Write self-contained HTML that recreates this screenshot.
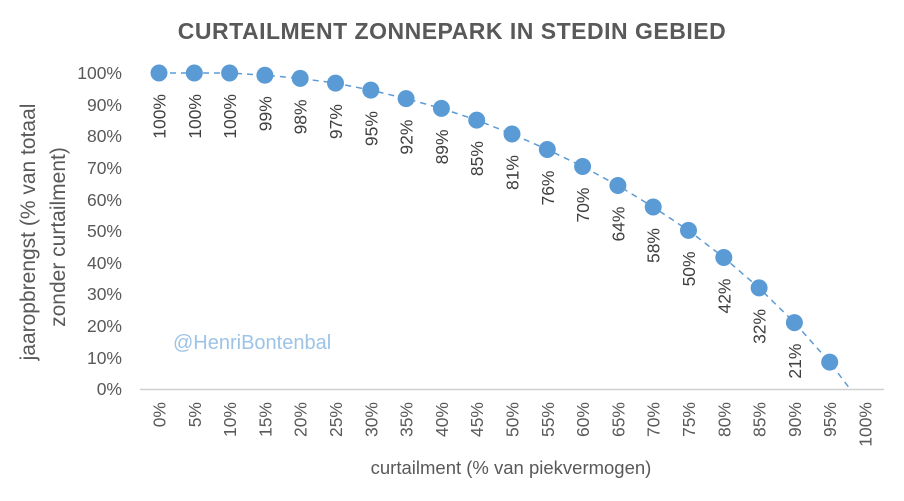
<!DOCTYPE html>
<html><head><meta charset="utf-8"><style>
body{margin:0;background:#fff}
svg{display:block;font-family:"Liberation Sans",Calibri,sans-serif}
</style></head><body>
<svg width="904" height="501" viewBox="0 0 904 501" xmlns="http://www.w3.org/2000/svg">
<rect width="904" height="501" fill="#fff"/>
<text x="452" y="39" text-anchor="middle" font-size="23" font-weight="bold" fill="#595959" letter-spacing="0.5">CURTAILMENT ZONNEPARK IN STEDIN GEBIED</text>
<g font-size="17.5" fill="#595959" text-anchor="end">
<text x="122" y="79">100%</text><text x="122" y="111">90%</text><text x="122" y="142">80%</text>
<text x="122" y="174">70%</text><text x="122" y="206">60%</text><text x="122" y="237">50%</text>
<text x="122" y="269">40%</text><text x="122" y="300">30%</text><text x="122" y="332">20%</text>
<text x="122" y="364">10%</text><text x="122" y="395">0%</text>
</g>
<text transform="translate(35,232) rotate(-90)" text-anchor="middle" font-size="21" fill="#595959">jaaropbrengst (% van totaal</text>
<text transform="translate(65,237) rotate(-90)" text-anchor="middle" font-size="21" fill="#595959">zonder curtailment)</text>
<line x1="140" y1="389.5" x2="884" y2="389.5" stroke="#d0d0d0" stroke-width="1.5"/>
<g font-size="17.5" fill="#595959" text-anchor="end">
<text transform="translate(165.5,402) rotate(-90)">0%</text>
<text transform="translate(200.8,402) rotate(-90)">5%</text>
<text transform="translate(236.1,402) rotate(-90)">10%</text>
<text transform="translate(271.4,402) rotate(-90)">15%</text>
<text transform="translate(306.7,402) rotate(-90)">20%</text>
<text transform="translate(342,402) rotate(-90)">25%</text>
<text transform="translate(377.3,402) rotate(-90)">30%</text>
<text transform="translate(412.6,402) rotate(-90)">35%</text>
<text transform="translate(447.9,402) rotate(-90)">40%</text>
<text transform="translate(483.2,402) rotate(-90)">45%</text>
<text transform="translate(518.5,402) rotate(-90)">50%</text>
<text transform="translate(553.8,402) rotate(-90)">55%</text>
<text transform="translate(589.1,402) rotate(-90)">60%</text>
<text transform="translate(624.4,402) rotate(-90)">65%</text>
<text transform="translate(659.7,402) rotate(-90)">70%</text>
<text transform="translate(695,402) rotate(-90)">75%</text>
<text transform="translate(730.3,402) rotate(-90)">80%</text>
<text transform="translate(765.6,402) rotate(-90)">85%</text>
<text transform="translate(800.9,402) rotate(-90)">90%</text>
<text transform="translate(836.2,402) rotate(-90)">95%</text>
<text transform="translate(871.5,402) rotate(-90)">100%</text>
</g>
<text x="511" y="474" text-anchor="middle" font-size="18.5" fill="#595959">curtailment (% van piekvermogen)</text>
<text x="173" y="349" font-size="20" fill="#9dc3e6">@HenriBontenbal</text>
<polyline fill="none" stroke="#5b9bd5" stroke-width="1.5" stroke-dasharray="6,5" points="159,73 194.3,73 229.6,73 264.9,75.2 300.2,78.4 335.5,83.1 370.8,90.1 406.1,98.6 441.4,108.4 476.7,120.1 512,134 547.3,149.5 582.6,166.5 617.9,185.5 653.2,207 688.5,230.4 723.8,257.5 759.1,287.9 794.4,322.6 829.7,362.1 850,389"/>
<g fill="#5b9bd5">
<circle cx="159" cy="73" r="8.5"/><circle cx="194.3" cy="73" r="8.5"/><circle cx="229.6" cy="73" r="8.5"/>
<circle cx="264.9" cy="75.2" r="8.5"/><circle cx="300.2" cy="78.4" r="8.5"/><circle cx="335.5" cy="83.1" r="8.5"/>
<circle cx="370.8" cy="90.1" r="8.5"/><circle cx="406.1" cy="98.6" r="8.5"/><circle cx="441.4" cy="108.4" r="8.5"/>
<circle cx="476.7" cy="120.1" r="8.5"/><circle cx="512" cy="134" r="8.5"/><circle cx="547.3" cy="149.5" r="8.5"/>
<circle cx="582.6" cy="166.5" r="8.5"/><circle cx="617.9" cy="185.5" r="8.5"/><circle cx="653.2" cy="207" r="8.5"/>
<circle cx="688.5" cy="230.4" r="8.5"/><circle cx="723.8" cy="257.5" r="8.5"/><circle cx="759.1" cy="287.9" r="8.5"/>
<circle cx="794.4" cy="322.6" r="8.5"/><circle cx="829.7" cy="362.1" r="8.5"/>
</g>
<g font-size="17.5" fill="#404040" text-anchor="end">
<text transform="translate(165.5,94) rotate(-90)">100%</text>
<text transform="translate(200.8,94) rotate(-90)">100%</text>
<text transform="translate(236.1,94) rotate(-90)">100%</text>
<text transform="translate(271.4,96.2) rotate(-90)">99%</text>
<text transform="translate(306.7,99.4) rotate(-90)">98%</text>
<text transform="translate(342,104.1) rotate(-90)">97%</text>
<text transform="translate(377.3,111.1) rotate(-90)">95%</text>
<text transform="translate(412.6,119.6) rotate(-90)">92%</text>
<text transform="translate(447.9,129.4) rotate(-90)">89%</text>
<text transform="translate(483.2,141.1) rotate(-90)">85%</text>
<text transform="translate(518.5,155) rotate(-90)">81%</text>
<text transform="translate(553.8,170.5) rotate(-90)">76%</text>
<text transform="translate(589.1,187.5) rotate(-90)">70%</text>
<text transform="translate(624.4,206.5) rotate(-90)">64%</text>
<text transform="translate(659.7,228) rotate(-90)">58%</text>
<text transform="translate(695,251.4) rotate(-90)">50%</text>
<text transform="translate(730.3,278.5) rotate(-90)">42%</text>
<text transform="translate(765.6,308.9) rotate(-90)">32%</text>
<text transform="translate(800.9,343.6) rotate(-90)">21%</text>
</g>
</svg>
</body></html>
